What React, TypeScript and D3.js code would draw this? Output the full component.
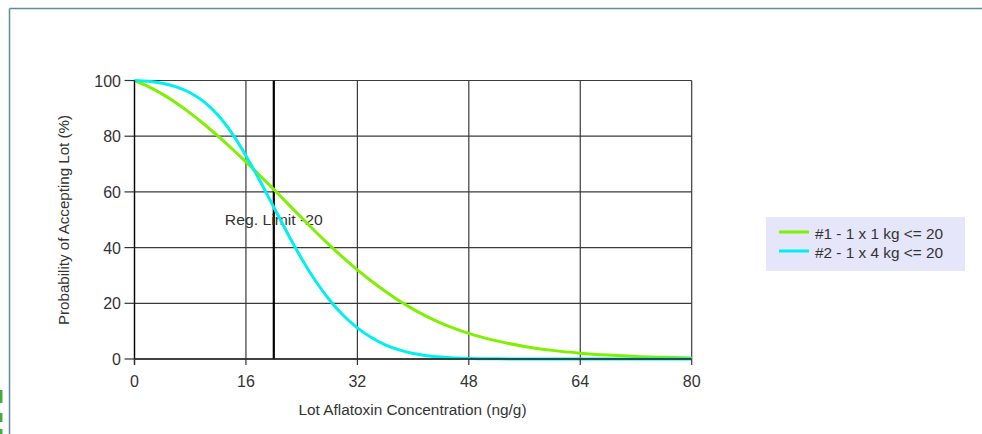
import React from "react";
import * as d3 from "d3";

const xValues = [0, 2, 4, 6, 8, 10, 12, 14, 16, 18, 20, 22, 24, 26, 28, 30, 32, 34, 36, 38, 40, 42, 44, 46, 48, 52, 56, 60, 64, 68, 72, 76, 80];
const series1 = [100, 97.8, 95.1, 91.9, 88.3, 84.3, 80.0, 75.5, 70.8, 65.9, 60.9, 55.8, 50.7, 45.7, 40.9, 36.3, 32.0, 28.0, 24.3, 20.9, 17.9, 15.2, 12.9, 10.9, 9.2, 6.5, 4.5, 3.1, 2.1, 1.4, 0.9, 0.6, 0.35];
const series2 = [100, 99.7, 99.0, 97.7, 95.6, 92.3, 87.5, 81, 73, 64, 54.5, 45, 36, 28, 21.2, 15.6, 11.2, 7.7, 5.1, 3.3, 2.0, 1.2, 0.7, 0.4, 0.22, 0.07, 0.02, 0, 0, 0, 0, 0, 0];
const seriesNames = ["#1 - 1 x 1 kg <= 20", "#2 - 1 x 4 kg <= 20"];
const seriesColors = ["#7FF000", "#00F0F0"];
const xTicks = [0, 16, 32, 48, 64, 80];
const yTicks = [0, 20, 40, 60, 80, 100];
const regLimit = 20;
const regLabel = "Reg. Limit -20";
const xTitle = "Lot Aflatoxin Concentration (ng/g)";
const yTitle = "Probability of Accepting Lot (%)";

const FONT = "'Liberation Sans', Arial, sans-serif";
const TXT = "#333";

export default function App() {
  const x = d3.scaleLinear().domain([0, 80]).range([134.5, 691.7]);
  const y = d3.scaleLinear().domain([0, 100]).range([359, 80.5]);
  const line = d3
    .line<number>()
    .x((_, i) => x(xValues[i]))
    .y((d) => y(d))
    .curve(d3.curveMonotoneX);
  const data = [series1, series2];

  return (
    <svg
      width={982}
      height={434}
      style={{ position: "absolute", left: 0, top: 0, background: "#fff" }}
      fontFamily={FONT}
    >
      {/* outer frame */}
      <line x1={9.5} y1={8.5} x2={982} y2={8.5} stroke="#5f8aa3" strokeWidth={1.5} />
      <line x1={9.5} y1={8.5} x2={9.5} y2={434} stroke="#5f8aa3" strokeWidth={1.5} />
      <rect x={0} y={390} width={2.5} height={13} fill="#3fae3f" />
      <rect x={0} y={413} width={2.5} height={9} fill="#3fae3f" />
      <rect x={0} y={429} width={2.5} height={5} fill="#3fae3f" />

      {/* grid */}
      {xTicks.map((t) => (
        <line key={"gx" + t} x1={x(t)} x2={x(t)} y1={y(100)} y2={y(0)} stroke="#3a3a3a" strokeWidth={1.2} />
      ))}
      {yTicks.map((t) => (
        <line key={"gy" + t} x1={x(0)} x2={x(80)} y1={y(t)} y2={y(t)} stroke="#3a3a3a" strokeWidth={1.2} />
      ))}

      {/* reg limit */}
      <line x1={x(regLimit)} x2={x(regLimit)} y1={y(100)} y2={y(0)} stroke="#000" strokeWidth={2.2} />
      <text
        x={x(regLimit) - 49}
        y={224.5}
        fontSize={15}
        fill={TXT}
        textLength={98}
        lengthAdjust="spacingAndGlyphs"
      >
        {regLabel}
      </text>

      {/* series */}
      {data.map((s, i) => (
        <path key={i} d={line(s) || ""} fill="none" stroke={seriesColors[i]} strokeWidth={3} strokeLinejoin="round" />
      ))}

      {/* axes */}
      <line x1={x(0)} x2={x(0)} y1={y(100)} y2={y(0) + 6} stroke="#000" strokeWidth={1.3} />
      <line x1={x(0)} x2={x(80)} y1={y(0)} y2={y(0)} stroke="#222" strokeWidth={1.3} />
      {yTicks.map((t) => (
        <g key={"yt" + t}>
          <line x1={x(0) - 10} x2={x(0)} y1={y(t)} y2={y(t)} stroke="#333" strokeWidth={1.2} />
          <text x={121} y={y(t) + 6} textAnchor="end" fontSize={16} fill={TXT}>
            {t}
          </text>
        </g>
      ))}
      {xTicks.map((t) => (
        <g key={"xt" + t}>
          <line x1={x(t)} x2={x(t)} y1={y(0)} y2={y(0) + 6} stroke="#333" strokeWidth={1.2} />
          <text x={x(t)} y={y(0) + 28} textAnchor="middle" fontSize={16} fill={TXT}>
            {t}
          </text>
        </g>
      ))}

      {/* titles */}
      <text
        x={298.5}
        y={415}
        fontSize={15.5}
        fill={TXT}
        textLength={228}
        lengthAdjust="spacingAndGlyphs"
      >
        {xTitle}
      </text>
      <text
        transform={`translate(69, 325) rotate(-90)`}
        fontSize={15}
        fill={TXT}
        textLength={210}
        lengthAdjust="spacingAndGlyphs"
      >
        {yTitle}
      </text>

      {/* legend */}
      <rect x={766} y={217} width={199} height={54} fill="#E6E6FA" />
      {seriesNames.map((n, i) => (
        <g key={"lg" + i}>
          <line x1={779} x2={809} y1={232 + i * 19} y2={232 + i * 19} stroke={seriesColors[i]} strokeWidth={3} />
          <text
            x={815}
            y={238.5 + i * 19}
            fontSize={15}
            fill={TXT}
            textLength={128}
            lengthAdjust="spacingAndGlyphs"
          >
            {n}
          </text>
        </g>
      ))}
    </svg>
  );
}
